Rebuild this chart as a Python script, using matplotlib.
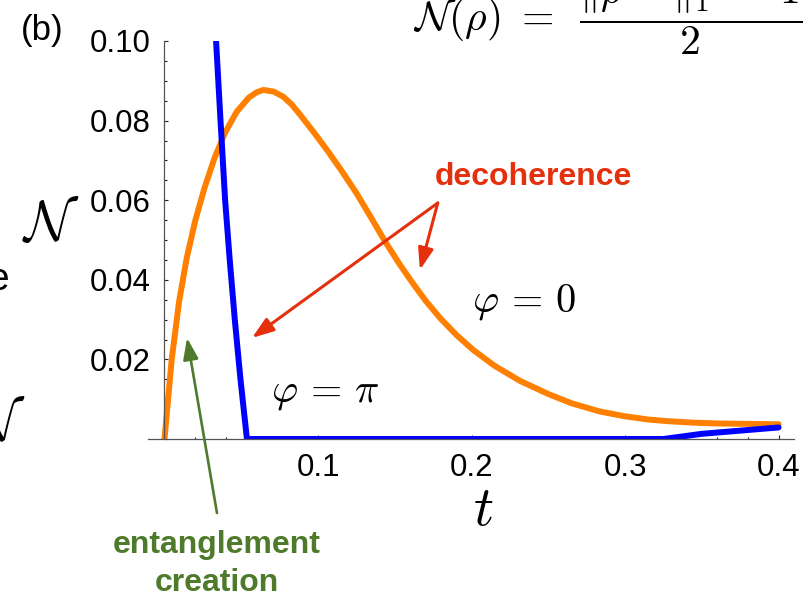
import matplotlib
matplotlib.use("Agg")
import matplotlib.pyplot as plt
import matplotlib.ticker as ticker

plt.rcParams["font.family"] = ["Liberation Sans", "DejaVu Sans"]
plt.rcParams["mathtext.fontset"] = "cm"

# negativity N(t) for the two phases
t_zero = [0.0, 0.0047, 0.0095, 0.0145, 0.020, 0.026, 0.0325, 0.0395, 0.047,
          0.055, 0.060, 0.0644, 0.071, 0.0774, 0.083, 0.0883, 0.097, 0.1057,
          0.115, 0.125, 0.134, 0.1436, 0.153, 0.162, 0.17, 0.1795, 0.19, 0.201,
          0.215, 0.2316, 0.25, 0.265, 0.2837, 0.30, 0.315, 0.327, 0.345, 0.36,
          0.38, 0.40]
n_zero = [0.0, 0.0200, 0.0345, 0.0455, 0.0548, 0.0630, 0.0705, 0.0770, 0.0822,
          0.0858, 0.0871, 0.0877, 0.0873, 0.0860, 0.0840, 0.0815, 0.0772, 0.0727,
          0.0676, 0.0618, 0.0560, 0.0497, 0.0440, 0.0390, 0.0348, 0.0304, 0.0262, 0.0224,
          0.0184, 0.0146, 0.0113, 0.0090, 0.0069, 0.0057, 0.0049, 0.0045, 0.0041, 0.0039,
          0.0038, 0.0037]

t_pi = [0.0336, 0.0365, 0.0395, 0.0425, 0.0458, 0.0495, 0.0537, 0.325, 0.35, 0.375, 0.40]
n_pi = [0.100, 0.080, 0.060, 0.045, 0.030, 0.015, 0.0, 0.0, 0.0013, 0.0021, 0.0029]

x_major = [0.1, 0.2, 0.3, 0.4]
x_labels = ["0.1", "0.2", "0.3", "0.4"]
y_major = [0.02, 0.04, 0.06, 0.08, 0.10]
y_labels = ["0.02", "0.04", "0.06", "0.08", "0.10"]

ORANGE = "#FF8000"; BLUE = "#0000FF"; RED = "#E5300E"; GREEN = "#4E7B2B"
AXIS = "#555555"

W, H = 810, 602
fx = lambda x: x / W
fy = lambda y: 1 - y / H

fig = plt.figure(figsize=(W / 100, H / 100), dpi=100)
ax = fig.add_axes([fx(147.6), fy(439), (793.9 - 147.6) / W, 398 / H])
ax.set_xlim(-0.011, 0.41)
ax.set_ylim(0, 0.1)

ax.plot(t_zero, n_zero, color=ORANGE, lw=4.3, solid_capstyle="round", solid_joinstyle="round")
ax.plot(t_pi, n_pi, color=BLUE, lw=4.3, solid_capstyle="round", solid_joinstyle="round")

ax.spines[["top", "right"]].set_visible(False)
ax.spines["left"].set_position(("data", 0))
for s in ("left", "bottom"):
    ax.spines[s].set_color(AXIS)
    ax.spines[s].set_linewidth(0.9)

ax.set_xticks(x_major, labels=x_labels)
ax.xaxis.set_minor_locator(ticker.MultipleLocator(0.02))
ax.set_yticks(y_major, labels=y_labels)
ax.yaxis.set_minor_locator(ticker.MultipleLocator(0.005))
ax.tick_params(which="both", direction="in", color="#222222", width=0.8)
ax.tick_params(which="major", length=3.2, labelsize=22.5, pad=10)
ax.tick_params(which="minor", length=1.8)

# axis labels
fig.text(fx(51), fy(226), r"$\mathcal{N}$", fontsize=40, ha="center", va="center")
fig.text(fx(483), fy(525), r"$t$", fontsize=40, ha="center", va="baseline")

# panel tag, definition and neighbouring-panel fragments
fig.text(fx(21), fy(40), "(b)", fontsize=25, va="baseline")
fig.text(fx(413), fy(30),
         r"$\mathcal{N}(\rho)\ =\ \,\dfrac{\|\rho^{\,T_A}\,\|_1\;-\;1}{2}$",
         fontsize=30, va="baseline")
fig.text(fx(9), fy(290), "e", fontsize=28, ha="right", va="baseline")
fig.text(fx(26), fy(440), r"$\mathcal{N}$", fontsize=40, ha="right", va="baseline")

# curve labels
fig.text(fx(472), fy(312), r"$\varphi\,=\,0$", fontsize=29, va="baseline")
fig.text(fx(271), fy(402), r"$\varphi\,=\,\pi$", fontsize=29, va="baseline")

# annotations
fig.text(fx(533), fy(185), "decoherence", color=RED, fontsize=23,
         fontweight="bold", ha="center", va="baseline")
fig.text(fx(216.7), fy(553), "entanglement", color=GREEN, fontsize=23,
         fontweight="bold", ha="center", va="baseline")
fig.text(fx(216.5), fy(591), "creation", color=GREEN, fontsize=23,
         fontweight="bold", ha="center", va="baseline")

head = "-|>,head_length=0.65,head_width=0.23"
for tip in [(0.057, 0.0254), (0.1664, 0.0425)]:
    ax.annotate("", xy=tip, xytext=(0.178, 0.0593), annotation_clip=False,
                arrowprops=dict(arrowstyle=head, color=RED, lw=2.2,
                                mutation_scale=20, shrinkA=0, shrinkB=0))
ax.annotate("", xy=(0.0147, 0.0254), xytext=(0.0342, -0.0186), annotation_clip=False,
            arrowprops=dict(arrowstyle=head, color=GREEN, lw=1.9,
                            mutation_scale=20, shrinkA=0, shrinkB=0))

fig.savefig("out.png", dpi=100)
